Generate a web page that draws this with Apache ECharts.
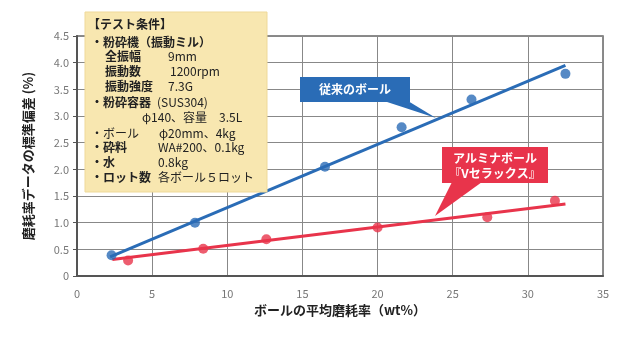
<!DOCTYPE html>
<html><head><meta charset="utf-8">
<script src="https://cdn.jsdelivr.net/npm/echarts@6/dist/echarts.min.js"></script>
<style>html,body{margin:0;padding:0;background:#fff}#c{width:640px;height:360px}</style>
</head><body><div id="c"></div>
<script>
// ---- data ----
const xTicks = [0, 5, 10, 15, 20, 25, 30, 35];
const yTicks = [0, 0.5, 1.0, 1.5, 2.0, 2.5, 3.0, 3.5, 4.0, 4.5];
const conventionalX = [2.3, 7.85, 16.5, 21.6, 26.25, 32.5];
const conventionalY = [0.39, 1.0, 2.05, 2.79, 3.31, 3.79];
const aluminaX = [3.4, 8.4, 12.6, 20.0, 27.3, 31.8];
const aluminaY = [0.29, 0.51, 0.69, 0.91, 1.1, 1.41];
const conventionalFitX = [2.2, 32.5];
const conventionalFitY = [0.36, 3.95];
const aluminaFitX = [2.35, 32.5];
const aluminaFitY = [0.31, 1.35];
const conventionalName = '従来のボール';
const aluminaName = ['アルミナボール', '『Vセラックス』'];
const xTitle = 'ボールの平均磨耗率（wt%）';
const yTitle = '磨耗率データの標準偏差 (%)';
const condTitle = '【テスト条件】';
const condLeft = ['・粉砕機（振動ミル）', '全振幅', '振動数', '振動強度', '・粉砕容器', '', '・ボール', '・砕料', '・水', '・ロット数'];
const condRight = ['', '9mm', '1200rpm', '7.3G', '(SUS304)', 'φ140、容量　3.5L', 'φ20mm、4kg', 'WA#200、0.1kg', '0.8kg', '各ボール５ロット'];

const BLUE = '#2a6cb6', RED = '#e8344b';
const FONT = '"Noto Sans CJK JP", "Noto Sans", sans-serif';
const zip = (a, b) => a.map((v, i) => [v, b[i]]);

// text box graphic
const leftX = [91, 105, 105, 105, 91, 91, 91, 91, 91, 91];
const leftBold = [true, true, true, true, true, false, false, true, true, true];
const rightX = [0, 168, 170, 168, 157, 142, 159, 158, 158, 158];
const lineY = [42, 56, 71, 86, 102, 117, 133, 147, 162, 177];
const boxEls = [{
  type: 'rect', shape: {x: 85, y: 12, width: 182, height: 180},
  style: {fill: '#f8e7b0', stroke: '#efd999', lineWidth: 1}, z: 10
}, {
  type: 'text', x: 88, y: 24, z: 11,
  style: {text: condTitle, font: 'bold 12px ' + FONT, fill: '#222', textVerticalAlign: 'middle'}
}];
condLeft.forEach((t, i) => {
  if (t) boxEls.push({type: 'text', x: leftX[i], y: lineY[i], z: 11,
    style: {text: t, font: (leftBold[i] ? 'bold ' : '') + '12px ' + FONT, fill: '#222', textVerticalAlign: 'middle'}});
  if (condRight[i]) boxEls.push({type: 'text', x: rightX[i], y: lineY[i], z: 11,
    style: {text: condRight[i], font: '12px ' + FONT, fill: '#222', textVerticalAlign: 'middle'}});
});

// callouts
const calloutEls = [
  {type: 'polygon', shape: {points: [[384, 101], [408, 101], [436, 118]]}, style: {fill: BLUE}, z: 12},
  {type: 'rect', shape: {x: 300, y: 77, width: 110, height: 25}, style: {fill: BLUE}, z: 12},
  {type: 'text', x: 355, y: 89.5, z: 13, style: {text: conventionalName, font: 'bold 12px ' + FONT, fill: '#fff', textAlign: 'center', textVerticalAlign: 'middle'}},
  {type: 'polygon', shape: {points: [[452, 182], [482, 182], [435, 216]]}, style: {fill: RED}, z: 12},
  {type: 'rect', shape: {x: 442, y: 147, width: 106, height: 36}, style: {fill: RED}, z: 12},
  {type: 'text', x: 495, y: 158, z: 13, style: {text: aluminaName[0], font: 'bold 12px ' + FONT, fill: '#fff', textAlign: 'center', textVerticalAlign: 'middle'}},
  {type: 'text', x: 495, y: 173, z: 13, style: {text: aluminaName[1], font: 'bold 12px ' + FONT, fill: '#fff', textAlign: 'center', textVerticalAlign: 'middle'}}
];

const chart = echarts.init(document.getElementById('c'), null, {renderer: 'canvas'});
chart.setOption({
  animation: false,
  grid: {left: 77, right: 37, top: 36, bottom: 84, show: true, borderColor: '#666', borderWidth: 1.5},
  xAxis: {
    type: 'value', min: xTicks[0], max: xTicks[xTicks.length - 1], interval: 5,
    name: xTitle, nameLocation: 'middle', nameGap: 26,
    nameTextStyle: {fontFamily: FONT, fontSize: 13, color: '#222', fontWeight: 'bold'},
    axisLine: {show: true, lineStyle: {color: '#555', width: 2}},
    axisTick: {show: false},
    axisLabel: {color: '#777', fontSize: 11, margin: 12, fontFamily: FONT},
    splitLine: {show: true, lineStyle: {color: '#888', width: 1}}
  },
  yAxis: {
    type: 'value', min: yTicks[0], max: yTicks[yTicks.length - 1], interval: 0.5,
    name: yTitle, nameLocation: 'middle', nameGap: 42, nameRotate: 90,
    nameTextStyle: {fontFamily: FONT, fontSize: 13, color: '#222', fontWeight: 'bold'},
    axisLine: {show: true, lineStyle: {color: '#555', width: 2}},
    axisTick: {show: true, length: 4, lineStyle: {color: '#555'}},
    axisLabel: {color: '#777', fontSize: 11, margin: 8, fontFamily: FONT,
      formatter: v => v === 0 ? '0' : v.toFixed(1)},
    splitLine: {show: true, lineStyle: {color: '#888', width: 1}}
  },
  series: [
    {type: 'line', data: zip(conventionalFitX, conventionalFitY), symbol: 'none', lineStyle: {color: BLUE, width: 3}, z: 3},
    {type: 'line', data: zip(aluminaFitX, aluminaFitY), symbol: 'none', lineStyle: {color: RED, width: 3}, z: 3},
    {type: 'scatter', data: zip(conventionalX, conventionalY), symbolSize: 10, itemStyle: {color: BLUE}, z: 4},
    {type: 'scatter', data: zip(aluminaX, aluminaY), symbolSize: 10, itemStyle: {color: RED}, z: 4}
  ],
  graphic: boxEls.concat(calloutEls)
});
</script></body></html>
